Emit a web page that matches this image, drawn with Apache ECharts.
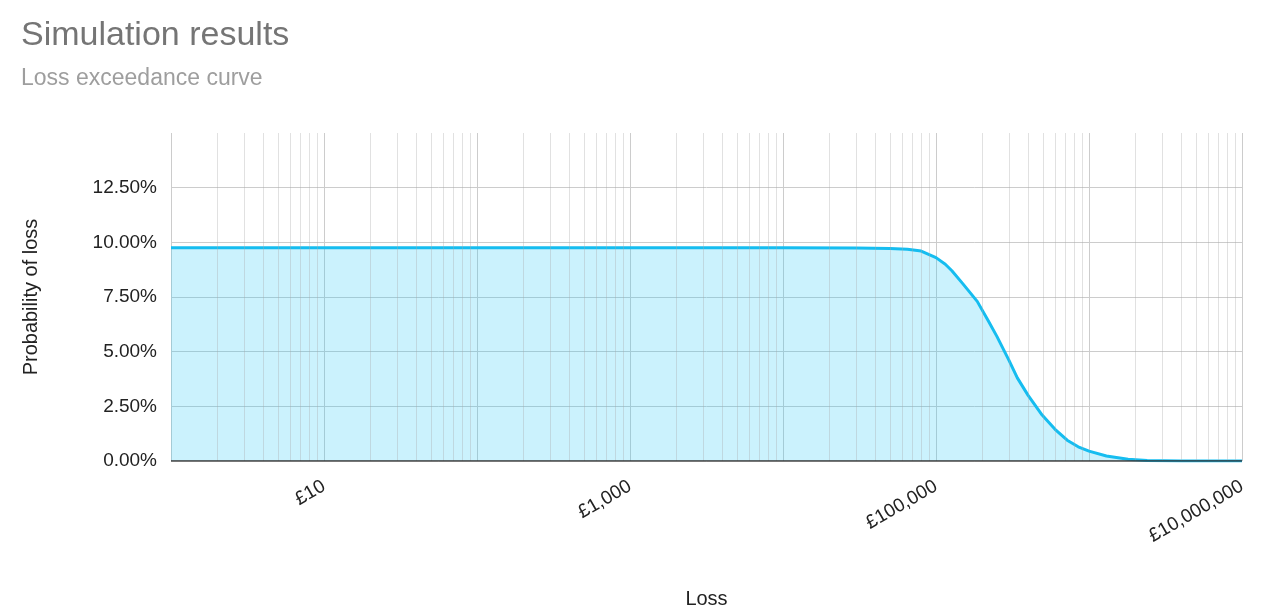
<!DOCTYPE html>
<html><head><meta charset="utf-8">
<script src="https://cdn.jsdelivr.net/npm/echarts@6/dist/echarts.min.js"></script>
<style>html,body{margin:0;padding:0;background:#fff}#c{width:1270px;height:616px}</style>
</head><body><div id="c"></div>
<script>
const losses = [1, 10, 100, 1000, 10000, 30000, 50000, 65000, 80000, 100000, 115000, 127000, 150000, 186000, 220000, 250000, 300000, 340000, 400000, 494000, 600000, 720000, 850000, 1000000, 1300000, 1800000, 2400000, 4000000, 10000000];
const probs  = [0.0975, 0.0975, 0.0975, 0.0975, 0.0975, 0.0974, 0.0972, 0.0968, 0.096, 0.093, 0.090, 0.087, 0.081, 0.073, 0.064, 0.057, 0.046, 0.038, 0.030, 0.021, 0.0145, 0.0095, 0.0065, 0.0045, 0.0023, 0.0008, 0.0002, 0.00003, 0];
const minorGrid = [];
for (let e = 0; e < 7; e++) for (let m = 2; m <= 9; m++) minorGrid.push(m * Math.pow(10, e));
const font = 'Arial, Liberation Sans, sans-serif';
const chart = echarts.init(document.getElementById('c'));
chart.setOption({
  animation: false,
  title: { text: 'Simulation results', subtext: 'Loss exceedance curve', left: 16, top: 14,
    textStyle: { fontFamily: font, fontSize: 34, fontWeight: 'normal', color: '#757575' },
    subtextStyle: { fontFamily: font, fontSize: 23, color: '#9e9e9e' }, itemGap: 14 },
  grid: { left: 171, right: 28, top: 133, bottom: 155 },
  xAxis: { type: 'log', logBase: 10, min: 1, max: 10000000, name: 'Loss', nameLocation: 'middle', nameGap: 128,
    nameTextStyle: { fontFamily: font, fontSize: 20, color: '#222' },
    axisLine: { show: false }, axisTick: { show: false },
    splitLine: { show: true, lineStyle: { color: '#cccccc', width: 1 } },
    axisLabel: { rotate: 30, fontFamily: font, fontSize: 19, color: '#222', margin: 24,
      formatter: v => { const e = Math.round(Math.log10(v)); return (e % 2 === 1) ? '£' + Math.round(v).toLocaleString('en-GB') : ''; } } },
  yAxis: { type: 'value', min: 0, max: 0.15, interval: 0.025, name: 'Probability of loss', nameLocation: 'middle', nameGap: 130,
    nameTextStyle: { fontFamily: font, fontSize: 20, color: '#222' },
    axisLine: { show: false }, axisTick: { show: false },
    splitLine: { showMaxLine: false, lineStyle: { color: '#cccccc' } },
    axisLabel: { fontFamily: font, fontSize: 19, color: '#222', margin: 14,
      formatter: v => v > 0.14 ? '' : (v * 100).toFixed(2) + '%' } },
  series: [{ type: 'line', data: losses.map((x, i) => [x, probs[i]]), smooth: false, showSymbol: false,
    lineStyle: { color: '#16bdf0', width: 3 }, areaStyle: { color: 'rgba(40,200,245,0.35)' },
    markLine: { silent: true, symbol: 'none', label: { show: false },
      lineStyle: { color: 'rgba(170,170,170,0.35)', type: 'solid', width: 1 },
      data: minorGrid.map(v => ({ xAxis: v })) } },
    { type: 'line', data: [[1, 0], [10000000, 0]], showSymbol: false, lineStyle: { color: '#333', width: 1.5 }, z: 5 }]
});
</script></body></html>
